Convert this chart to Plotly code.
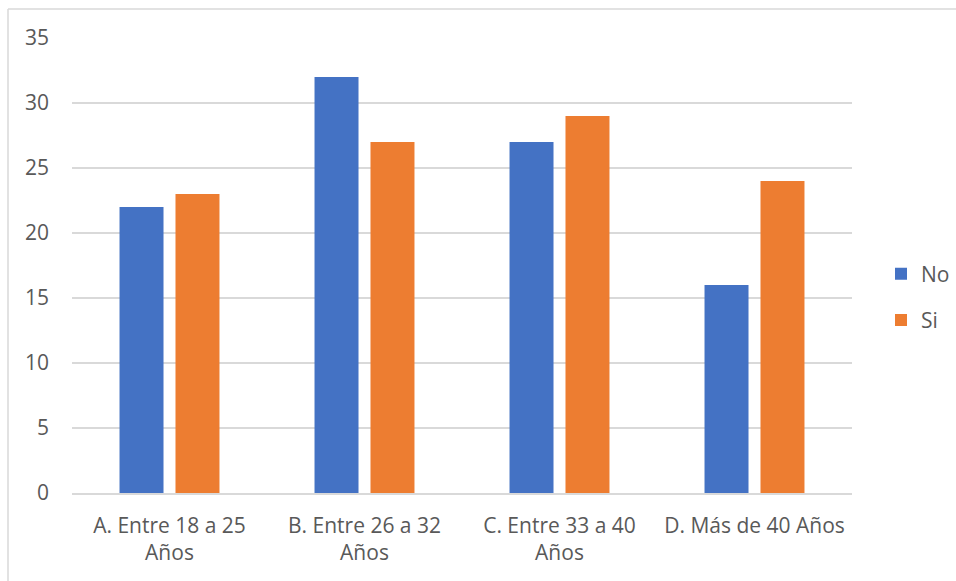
import plotly.graph_objects as go

categories = ["A. Entre 18 a 25<br>Años", "B. Entre 26 a 32<br>Años",
              "C. Entre 33 a 40<br>Años", "D. Más de 40 Años"]
no_values = [22, 32, 27, 16]
si_values = [23, 27, 29, 24]

y_ticks = [0, 5, 10, 15, 20, 25, 30, 35]

BLUE = "#4472C4"
ORANGE = "#ED7D31"
TEXT = "#595959"
GRID = "#D9D9D9"
FONT = "Open Sans"

fig = go.Figure()
fig.add_trace(go.Bar(x=categories, y=no_values, name="No",
                     marker=dict(color=BLUE, line=dict(width=0)),
                     legendgroup="no"))
fig.add_trace(go.Bar(x=categories, y=si_values, name="Si",
                     marker=dict(color=ORANGE, line=dict(width=0)),
                     legendgroup="si"))

L, R, T, B = 72, 104, 38, 88
W, H = 956, 581
pw, ph = W - L - R, H - T - B

def px_x(x):
    return (x - L) / pw

def px_y(y):
    return (H - B - y) / ph

fig.update_layout(
    width=W, height=H,
    margin=dict(l=L, r=R, t=T, b=B, autoexpand=False),
    paper_bgcolor="white", plot_bgcolor="white",
    barmode="group", bargap=0.426, bargroupgap=0.214,
    font=dict(family=FONT, size=21, color=TEXT),
    showlegend=True,
    legend=dict(xref="container", yref="container",
                x=881 / W, y=1 - 297 / H, xanchor="left", yanchor="middle",
                font=dict(family=FONT, size=21, color=TEXT),
                tracegroupgap=16, bgcolor="rgba(0,0,0,0)"),
    xaxis=dict(showgrid=False, showline=True, linecolor=GRID, linewidth=1.5,
               ticks="", ticklabelstandoff=13,
               tickfont=dict(size=21, color=TEXT)),
    yaxis=dict(range=[0, 35], tickvals=y_ticks, showgrid=True,
               gridcolor=GRID, gridwidth=1.5, zeroline=False,
               showline=False, ticks="", ticklabelstandoff=22,
               tickfont=dict(size=21, color=TEXT)),
    shapes=[
        dict(type="line", xref="paper", yref="paper",
             x0=px_x(8), x1=px_x(956), y0=px_y(9), y1=px_y(9),
             line=dict(color=GRID, width=1.5)),
        dict(type="line", xref="paper", yref="paper",
             x0=px_x(8), x1=px_x(8), y0=px_y(9), y1=px_y(585),
             line=dict(color=GRID, width=1.5)),
    ],
)

fig.write_html("out.html")
